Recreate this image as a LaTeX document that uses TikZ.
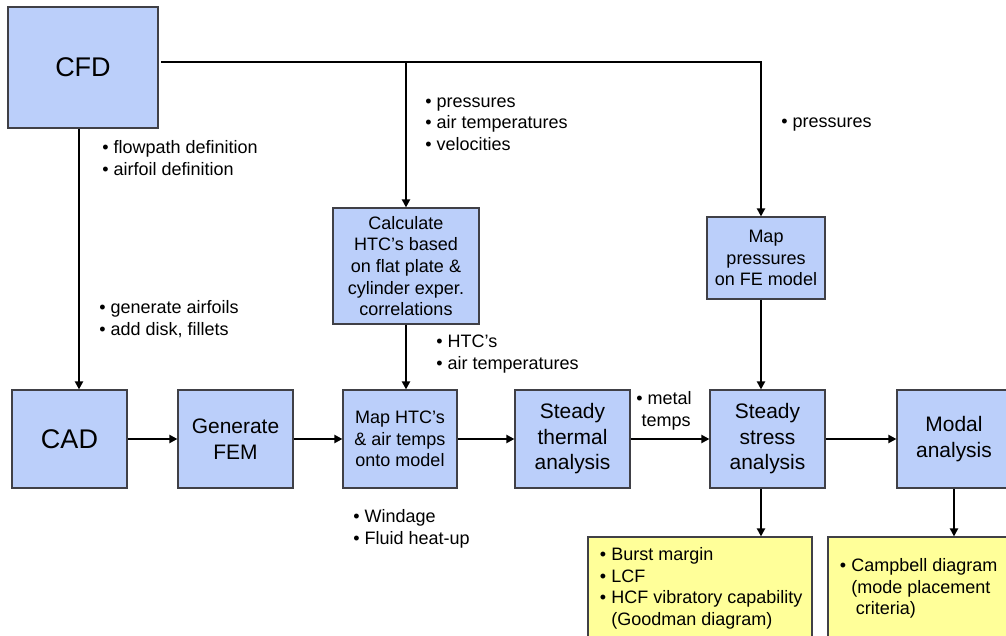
\documentclass[tikz,border=0pt]{standalone}
\usepackage{fontspec}
\setmainfont{Liberation Sans}
\usetikzlibrary{arrows.meta}
\definecolor{procFill}{RGB}{187,207,250}
\definecolor{procEdge}{RGB}{64,64,70}
\definecolor{outFill}{RGB}{255,255,153}
\definecolor{outEdge}{RGB}{64,64,70}
\newcommand\diagSmall{\fontsize{12.8pt}{15.4pt}\selectfont}
\newcommand\diagMid{\fontsize{14.9pt}{18.1pt}\selectfont}
\newcommand\diagBig{\fontsize{19.2pt}{23pt}\selectfont}
\tikzset{
  % blue process box; size is given per node
  proc/.style={
    draw=procEdge, fill=procFill, line width=0.8pt,
    align=center, inner sep=1pt, font=\diagMid
  },
  procsmall/.style={proc, font=\diagSmall},
  procbig/.style={proc, font=\diagBig},
  % yellow box with the results of an analysis
  outcome/.style={
    draw=outEdge, fill=outFill, line width=0.8pt, align=flush left,
    inner xsep=0.3cm, inner ysep=0pt, text width=5.0cm,
    minimum width=5.6cm, minimum height=2.575cm, font=\diagSmall
  },
  % bullet lists next to the connectors
  note/.style={align=left, anchor=west, inner sep=0pt, font=\diagSmall},
  % arrows
  flow/.style={-{Triangle[length=2mm,width=2mm]}, line width=1.4pt},
}
\begin{document}
\begin{tikzpicture}[x=0.025cm, y=-0.025cm]
\useasboundingbox (0,0) rectangle (1006,636);
\clip (0,0) rectangle (1006,636);

% ============================ upper boxes ==================================
\node[procbig, minimum width=3.75cm, minimum height=3.025cm] (cfd) at (83,67.5) {CFD};
\node[procsmall, minimum width=3.65cm, minimum height=2.9cm] (calc) at (406,266)
      {Calculate\\HTC’s based\\on flat plate \&\\cylinder exper.\\correlations};
\node[procsmall, minimum width=2.95cm, minimum height=2.05cm] (mappress) at (766,258)
      {Map\\pressures\\on FE model};

% ============================== main row ===================================
\node[procbig, minimum width=2.875cm, minimum height=2.45cm] (cad)     at (69.5,439)  {CAD};
\node[proc,    minimum width=2.875cm, minimum height=2.45cm] (fem)     at (235.5,439) {Generate\\FEM};
\node[procsmall, minimum width=2.85cm, minimum height=2.45cm] (maphtc) at (400,439)
      {Map HTC’s\\\& air temps\\onto model};
\node[proc, minimum width=2.875cm, minimum height=2.45cm] (thermal) at (572.5,439)
      {Steady\\thermal\\analysis};
\node[proc, minimum width=2.875cm, minimum height=2.45cm] (stress)  at (767.5,439)
      {Steady\\stress\\analysis};
\node[proc, minimum width=2.85cm,  minimum height=2.45cm] (modal)   at (954,439)
      {Modal\\analysis};

% ============================== results ====================================
\node[outcome] (burst) at (700,588.5)
      {• Burst margin\\• LCF\\\mbox{• HCF vibratory capability}\\\hphantom{• }(Goodman diagram)};
\node[outcome] (campbell) at (940,588.5)
      {• Campbell diagram\\\hphantom{• }(mode placement\\\hphantom{• }\hspace*{0.25em}criteria)};

% ============================= connectors ==================================
\coordinate (cfdout) at (161,62);
\coordinate (pdrop)  at (761,62);
\coordinate (cadin)  at (79,0);

\draw[flow] (cfdout) -- (pdrop) -- (pdrop |- mappress.north);
\draw[flow] (cfdout -| calc.north) -- (calc.north);
\draw[flow] (cfd.south -| cadin) -- (cadin |- cad.north);
\draw[flow] (calc.south) -- (calc.south |- maphtc.north);
\draw[flow] (mappress.south -| pdrop) -- (pdrop |- stress.north);

\draw[flow] (cad)     -- (fem);
\draw[flow] (fem)     -- (maphtc);
\draw[flow] (maphtc)  -- (thermal);
\draw[flow] (thermal) -- (stress);
\draw[flow] (stress)  -- (modal);

\draw[flow] (stress.south -| pdrop) -- (pdrop |- burst.north);
\draw[flow] (modal.south) -- (modal.south |- campbell.north);

% =============================== notes =====================================
\node[note] (nflow)  at (102,158) {• flowpath definition\\• airfoil definition};
\node[note] (ngen)   at (99,319)  {• generate airfoils\\• add disk, fillets};
\node[note] (nvals)  at (425,124) {• pressures\\• air temperatures\\• velocities};
\node[note] (npress) at (781,125) {• pressures};
\node[note] (nhtc)   at (436,354) {• HTC’s\\• air temperatures};
\node[note] (nmetal) at (636,411) {• metal\\\hspace*{0.3em}temps};
\node[note] (nwind)  at (353,529) {• Windage\\• Fluid heat-up};

\end{tikzpicture}
\end{document}
